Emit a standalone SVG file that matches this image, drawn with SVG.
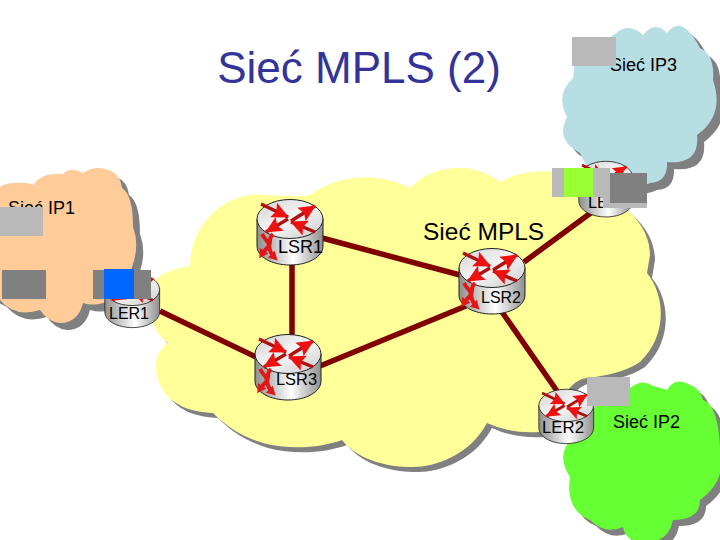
<svg xmlns="http://www.w3.org/2000/svg" width="720" height="540" viewBox="0 0 720 540">
<style>
text{font-family:"Liberation Sans",Arial,sans-serif;fill:#000}
.l{font-size:18px}
.r{font-size:17px}
.link{stroke:#800000;stroke-width:5.500;fill:none}
.shadow{fill:#808080}
.lg{fill:#b9b9b9}
.dg{fill:#808080}
</style>
<defs>
<linearGradient id="side" x1="0" x2="1" y1="0" y2="0"><stop offset="0" stop-color="#8f8f8f"/><stop offset=".55" stop-color="#ffffff"/><stop offset="1" stop-color="#8f8f8f"/></linearGradient>
<linearGradient id="top" x1="0" x2="1" y1="0" y2="1"><stop offset="0" stop-color="#d0d0d0"/><stop offset=".5" stop-color="#f6f6f6"/><stop offset="1" stop-color="#c8c8c8"/></linearGradient>
<marker id="ah" markerUnits="userSpaceOnUse" markerWidth="18" markerHeight="18" refX="16" refY="9" orient="auto"><path d="M0 1L17 9L0 17L3 9Z" fill="#ee1111"/></marker>
<marker id="as" markerUnits="userSpaceOnUse" markerWidth="10" markerHeight="10" refX="4" refY="5" orient="auto"><path d="M0 0L9 5L0 10Z" fill="#e01818"/></marker>
<g id="router">
<path d="M1 21V48C1 59 16 67 34 67S67 59 67 48V21Z" fill="url(#side)" stroke="#222" stroke-width="1"/>
<ellipse cx="34" cy="21" rx="33" ry="19.500" fill="url(#top)" stroke="#222" stroke-width="1"/>
<g stroke="#b01010" stroke-width="3.500" fill="none">
<line x1="5" y1="6" x2="32" y2="19" marker-end="url(#ah)"/>
<line x1="35" y1="23" x2="59" y2="8" marker-end="url(#ah)"/>
<line x1="32" y1="21" x2="10" y2="34" marker-end="url(#ah)"/>
<line x1="59" y1="34" x2="35" y2="24" marker-end="url(#ah)"/>
</g>
</g>
<g id="lsr-icon" stroke="#e01818" stroke-width="4" fill="none">
<path d="M17 36C11 41 17 45 11 50C9 52 8 53 6 56" marker-end="url(#as)"/>
<path d="M6 36C8 39 9 41 11 43C15 47 11 52 18 59" marker-end="url(#as)"/>
</g>
<path id="yc" d="M157 278Q172 268 190 266C190 225 225 190 267 195Q292 197 310 195A96 96 0 0 1 410 188A68 68 0 0 1 500 182C525 168 570 165 600 190C625 205 650 225 650 255L647 273C665 295 668 335 640 362C625 372 605 376 587 378Q570 380 560 405Q555 425 540 432Q510 434 487 423C470 455 435 467 413 467C390 467 360 462 342 440C320 448 290 450 263 443C240 436 225 425 213 413C190 412 170 405 160 385C153 368 155 352 168 343C150 330 142 300 157 278Z"/>
<path id="oc" d="M-20 220L-5 190Q5 182 17 183Q27 182 33 185Q42 172 63 174Q70 166 83 173Q95 165 108 170Q120 173 122 188Q133 195 133 227Q140 245 132 267Q130 300 103 303Q93 306 83 303Q78 323 60 323Q48 322 40 310Q15 318 0 300L-20 290Z"/>
<path id="bc" d="M575 63L616 33Q630 22 643 35Q655 20 667 33Q682 13 700 48Q715 55 713 80Q725 115 697 135Q700 165 667 162Q668 182 650 183Q635 190 620 185Q590 180 580 153Q555 140 567 117Q555 95 573 78Z"/>
<path id="gc" d="M600 400Q612 385 630 388Q642 378 653 386L667 390Q675 376 690 385Q700 388 703 400Q718 405 720 447Q728 480 700 500Q700 520 673 520Q668 545 640 542Q625 540 623 527Q605 535 590 520Q565 510 570 477Q555 455 573 437Z"/>
</defs>

<rect width="720" height="540" fill="#fff"/>
<g id="cloud-ip2"><use href="#gc" class="shadow" x="6" y="6"/><use href="#gc" fill="#66ff33"/></g>
<g id="cloud-mpls"><use href="#yc" class="shadow" x="5" y="5"/><use href="#yc" fill="#ffff99"/></g>
<g id="cloud-ip1"><use href="#oc" class="shadow" x="7" y="7"/><use href="#oc" fill="#ffcc99"/></g>

<g id="connectors">
<line class="link" x1="292" y1="262" x2="292" y2="336"/>
<line class="link" x1="160" y1="311" x2="258" y2="358"/>
<line class="link" x1="322" y1="238" x2="460" y2="275"/>
<line class="link" x1="320" y1="366" x2="466" y2="306"/>
<line class="link" x1="502" y1="312" x2="557" y2="391"/>
<line class="link" x1="524" y1="262" x2="592" y2="212"/>
</g>

<g id="cloud-ip3"><use href="#bc" class="shadow" x="7" y="7"/><use href="#bc" fill="#b7dee3"/></g>
<g id="LER3"><use href="#router" transform="translate(578 160) scale(.82 .85)"/><text class="r" x="588" y="208" textLength="41" lengthAdjust="spacingAndGlyphs">LER3</text></g>

<g id="LSR1"><use href="#router" x="256" y="198"/><use href="#lsr-icon" x="256" y="198"/><text class="l" x="278" y="253">LSR1</text></g>
<g id="LSR2"><use href="#router" x="458" y="247"/><use href="#lsr-icon" x="458" y="247"/><text class="r" x="481" y="303" textLength="40" lengthAdjust="spacingAndGlyphs">LSR2</text></g>
<g id="LSR3"><use href="#router" x="254" y="333"/><use href="#lsr-icon" x="254" y="333"/><text class="r" x="276" y="385" textLength="41" lengthAdjust="spacingAndGlyphs">LSR3</text></g>
<g id="LER1"><use href="#router" transform="translate(104 272) scale(.83)"/><text class="r" x="109" y="319" textLength="40" lengthAdjust="spacingAndGlyphs">LER1</text></g>
<g id="LER2"><use href="#router" transform="translate(538 388) scale(.83)"/><text class="r" x="542" y="433" textLength="42" lengthAdjust="spacingAndGlyphs">LER2</text></g>

<text x="359" y="83" font-size="44" text-anchor="middle" style="fill:#333399">Sieć MPLS (2)</text>
<text x="423" y="240" font-size="24.500">Sieć MPLS</text>
<text class="l" x="8" y="214">Sieć IP1</text>
<text class="l" x="610" y="71">Sieć IP3</text>
<text class="l" x="613" y="428">Sieć IP2</text>

<g id="overlays">
<rect class="lg" x="0" y="207" width="43" height="29"/>
<rect class="dg" x="2" y="270" width="44" height="29"/>
<rect class="dg" x="93" y="270" width="58" height="29"/>
<rect x="104" y="269" width="30" height="30" fill="#0066ff"/>
<rect class="lg" x="572" y="37" width="44" height="29"/>
<rect class="lg" x="603" y="178" width="44" height="30"/>
<rect class="lg" x="552" y="168" width="58" height="29"/>
<rect x="564" y="168" width="29" height="29" fill="#99ff33"/>
<rect class="dg" x="610" y="173" width="37" height="30"/>
<rect class="lg" x="587" y="377" width="43" height="29"/>
</g>
</svg>
